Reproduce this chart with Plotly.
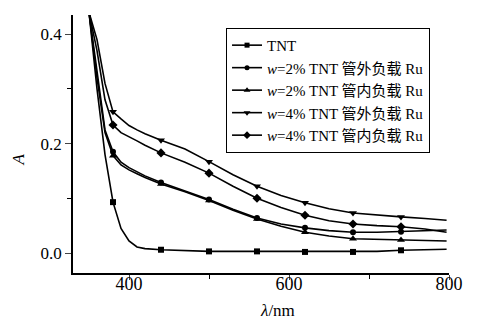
import plotly.graph_objects as go

# wavelength grid of the traced spectra (nm)
wl = [350, 360, 370, 380, 390, 400, 410, 420, 440, 470, 500, 530, 560, 590, 620, 650, 680, 710, 740, 770, 797]

# absorbance of each sample
tnt      = [0.44, 0.30, 0.18, 0.093, 0.045, 0.022, 0.011, 0.008, 0.006, 0.004, 0.003, 0.003, 0.003, 0.002, 0.002, 0.002, 0.002, 0.003, 0.005, 0.006, 0.007]
ru2_out  = [0.44, 0.33, 0.225, 0.185, 0.166, 0.156, 0.148, 0.141, 0.129, 0.114, 0.098, 0.080, 0.064, 0.053, 0.046, 0.041, 0.038, 0.038, 0.039, 0.040, 0.042]
ru2_in   = [0.44, 0.32, 0.22, 0.178, 0.161, 0.152, 0.145, 0.138, 0.126, 0.112, 0.096, 0.078, 0.062, 0.049, 0.038, 0.031, 0.026, 0.025, 0.024, 0.023, 0.022]
ru4_out  = [0.44, 0.39, 0.31, 0.258, 0.245, 0.233, 0.225, 0.218, 0.206, 0.190, 0.167, 0.143, 0.122, 0.105, 0.092, 0.081, 0.073, 0.069, 0.066, 0.063, 0.060]
ru4_in   = [0.44, 0.37, 0.28, 0.234, 0.220, 0.213, 0.205, 0.197, 0.183, 0.166, 0.146, 0.122, 0.100, 0.083, 0.069, 0.059, 0.053, 0.050, 0.048, 0.044, 0.038]

# wavelengths where symbols are drawn
marker_wl = [380, 440, 500, 560, 620, 680, 740]

names = ["TNT",
         "<i>w</i>=2% TNT 管外负载 Ru",
         "<i>w</i>=2% TNT 管内负载 Ru",
         "<i>w</i>=4% TNT 管外负载 Ru",
         "<i>w</i>=4% TNT 管内负载 Ru"]
series = [tnt, ru2_out, ru2_in, ru4_out, ru4_in]
symbols = ["square", "circle", "triangle-up", "triangle-down", "diamond"]
sizes = [6, 6, 7, 7, 7]

FONT = "Liberation Serif, Times New Roman, Noto Sans CJK SC, serif"

fig = go.Figure()
for name, ys, sym, sz in zip(names, series, symbols, sizes):
    fig.add_trace(go.Scatter(x=wl, y=ys, mode="lines",
                             line=dict(color="black", width=1.6),
                             showlegend=False, hoverinfo="skip"))
    mx = [w for w in wl if w in marker_wl]
    my = [v for w, v in zip(wl, ys) if w in marker_wl]
    fig.add_trace(go.Scatter(x=mx, y=my, mode="markers",
                             marker=dict(symbol=sym, size=sz, color="black"),
                             showlegend=False))
    # legend entry
    fig.add_trace(go.Scatter(x=[None], y=[None], mode="lines+markers", name=name,
                             line=dict(color="black", width=1.6),
                             marker=dict(symbol=sym, size=sz - 1, color="black")))

fig.update_layout(
    width=477, height=313,
    margin=dict(l=65, r=36, t=7, b=48, autoexpand=False),
    paper_bgcolor="white", plot_bgcolor="white",
    font=dict(family=FONT, size=17, color="black"),
    showlegend=True,
    legend=dict(x=0.407, y=0.95, xanchor="left", yanchor="top",
                bordercolor="black", borderwidth=1, bgcolor="white",
                font=dict(size=15, family=FONT), tracegroupgap=0,
                itemwidth=30),
    xaxis=dict(range=[330, 800], tick0=400, dtick=200, ticks="outside", ticklen=5,
               tickwidth=1.2, showline=True, linecolor="black", linewidth=1.5,
               showgrid=False, zeroline=False, tickfont=dict(size=18), automargin=False,
               ticklabelstandoff=-11,
               minor=dict(dtick=100, tick0=400, ticks="outside", ticklen=4, tickcolor="black", showgrid=False)),
    yaxis=dict(range=[-0.0365, 0.435], tick0=0, dtick=0.2, tickformat=".1f",
               ticks="outside", ticklen=6, tickwidth=1.2, automargin=False,
               showline=True, linecolor="black", linewidth=1.5,
               showgrid=False, zeroline=False, tickfont=dict(size=17),
               minor=dict(dtick=0.1, ticks="outside", ticklen=4, tickcolor="black", showgrid=False)),
    annotations=[
        dict(text="<i>λ</i>/nm", xref="x", yref="paper", x=585, y=-0.147,
             xanchor="center", yanchor="middle", showarrow=False, font=dict(size=17)),
        dict(text="<i>A</i>", xref="paper", yref="paper", x=-0.146, y=0.44,
             xanchor="center", yanchor="middle", textangle=-90, showarrow=False,
             font=dict(size=17)),
    ],
)

fig.write_html("out.html")
